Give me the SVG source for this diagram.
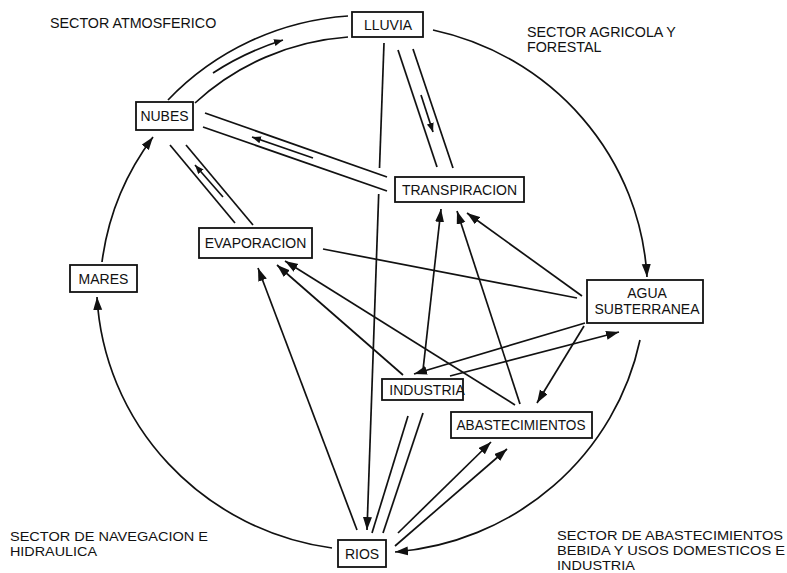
<svg xmlns="http://www.w3.org/2000/svg" width="787" height="573" viewBox="0 0 787 573">
<defs>
<marker id="ah" markerUnits="userSpaceOnUse" markerWidth="14" markerHeight="10" refX="13" refY="4.5" orient="auto"><path d="M0,0 L13,4.5 L0,9 z" fill="#111"/></marker>
<marker id="ahs" markerUnits="userSpaceOnUse" markerWidth="10" markerHeight="8" refX="9" refY="3.5" orient="auto"><path d="M0,0 L9,3.5 L0,7 z" fill="#111"/></marker>
<style>
.n rect{fill:#fff;stroke:#111;stroke-width:1.8}
.n text{font-family:"Liberation Sans",Arial,sans-serif;font-size:14px;fill:#111;text-anchor:middle}
.lbl{font-family:"Liberation Sans",Arial,sans-serif;font-size:14.3px;fill:#111}
.lb2{font-family:"Liberation Sans",Arial,sans-serif;font-size:13px;fill:#111}
.c path{fill:none;stroke:#111;stroke-width:1.7}
.a{marker-end:url(#ah)}
.s{marker-end:url(#ahs)}
</style>
</defs>
<rect width="787" height="573" fill="#fff"/>
<g class="c" id="connectors">
<path class="a" d="M433,30 A273,268 0 0 1 647,277"/>
<path class="a" d="M640,340 A273,268 0 0 1 395,552"/>
<path class="a" d="M332,548 A273,268 0 0 1 97,297"/>
<path class="a" d="M102,262 A273,268 0 0 1 153,137"/>
<path d="M168,100 A273,268 0 0 1 348,16"/>
<path d="M195,103 A250,245 0 0 1 348,37"/>
<path class="s" d="M213,73 Q245,52 283,40"/>
<path d="M384,43 L379.5,168"/>
<path class="a" d="M378.7,194 L367,530"/>
<path d="M205,113 L387,177"/>
<path d="M203,127 L387,191"/>
<path class="s" d="M313,158 L252,137"/>
<path d="M398,50 L437,167"/>
<path d="M413,49 L453,168"/>
<path class="s" d="M421,95 L433,132"/>
<path d="M170,145 L235,223"/>
<path d="M186,145 L253,225"/>
<path class="s" d="M223,197 L195,165"/>
<path d="M323,249 L577,298"/>
<path class="a" d="M582,296 L467,213"/>
<path class="a" d="M423,370 L441,209"/>
<path class="a" d="M520,404 L457,211"/>
<path class="a" d="M585,323 L414,374"/>
<path class="a" d="M450,376 L619,332"/>
<path class="a" d="M584,326 L537,403"/>
<path class="a" d="M357,530 L258,268"/>
<path class="a" d="M403,375 L277,265"/>
<path class="a" d="M515,405 L285,261"/>
<path d="M408,416 L372,533"/>
<path d="M423,413 L383,533"/>
<path class="a" d="M398,533 L491,442"/>
<path class="a" d="M395,546 L507,449"/>
</g>
<g class="n" id="lluvia"><rect x="352" y="12" width="71" height="25"/><text x="388" y="30">LLUVIA</text></g>
<g class="n" id="nubes"><rect x="136" y="102" width="57" height="28"/><text x="164.5" y="121">NUBES</text></g>
<g class="n" id="transpiracion"><rect x="395" y="177" width="129" height="25"/><text x="459.5" y="194.5">TRANSPIRACION</text></g>
<g class="n" id="evaporacion"><rect x="199" y="228" width="113" height="30"/><text x="255.5" y="248">EVAPORACION</text></g>
<g class="n" id="mares"><rect x="70" y="265" width="67" height="27"/><text x="103.5" y="283.5">MARES</text></g>
<g class="n" id="agua"><rect x="587" y="280" width="116" height="43"/><text x="647" y="298">AGUA</text><text x="647" y="313.5">SUBTERRANEA</text></g>
<g class="n" id="industria"><rect x="382" y="379" width="81" height="21"/><text x="427" y="394.5">INDUSTRIA</text></g>
<g class="n" id="abastecimientos"><rect x="451" y="412" width="141" height="26"/><text x="521" y="430" textLength="129" lengthAdjust="spacingAndGlyphs">ABASTECIMIENTOS</text></g>
<g class="n" id="rios"><rect x="338" y="540" width="48" height="27"/><text x="362" y="559">RIOS</text></g>
<g id="labels">
<text class="lbl" x="50" y="28">SECTOR ATMOSFERICO</text>
<text class="lbl" x="527" y="37">SECTOR AGRICOLA Y</text>
<text class="lbl" x="527" y="52">FORESTAL</text>
<text class="lb2" x="10" y="541" textLength="198" lengthAdjust="spacingAndGlyphs">SECTOR DE NAVEGACION E</text>
<text class="lb2" x="10" y="556" textLength="87" lengthAdjust="spacingAndGlyphs">HIDRAULICA</text>
<text class="lb2" x="557" y="540" textLength="226" lengthAdjust="spacingAndGlyphs">SECTOR DE ABASTECIMIENTOS</text>
<text class="lb2" x="557" y="555" textLength="228" lengthAdjust="spacingAndGlyphs">BEBIDA Y USOS DOMESTICOS E</text>
<text class="lb2" x="557" y="570" textLength="78" lengthAdjust="spacingAndGlyphs">INDUSTRIA</text>
</g>
</svg>
